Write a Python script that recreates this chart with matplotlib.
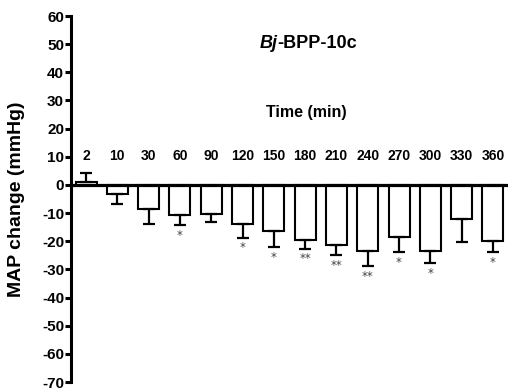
import matplotlib
matplotlib.use('Agg')
import matplotlib.pyplot as plt
import numpy as np

plt.rcParams['font.family'] = ['Liberation Sans', 'DejaVu Sans']

# time points (min) and MAP change (mmHg), mean and SEM
times = [2, 10, 30, 60, 90, 120, 150, 180, 210, 240, 270, 300, 330, 360]
means = [1.0, -3.4, -8.4, -10.6, -10.4, -13.8, -16.5, -19.4, -21.3, -23.5, -18.5, -23.5, -12.1, -19.8]
sems = [3.4, 3.5, 5.5, 3.6, 2.6, 4.9, 5.6, 3.2, 3.7, 5.3, 5.3, 4.3, 8.1, 4.0]
stars = ['', '', '', '*', '', '*', '*', '**', '**', '**', '*', '*', '', '*']
yticks = list(range(-70, 61, 10))

means = np.array(means)
sems = np.array(sems)
x = np.arange(len(times))

fig = plt.figure(figsize=(5.08, 3.9), dpi=100)
ax = fig.add_axes([71 / 508, 8 / 390, 437 / 508, 366 / 390])

# one-sided error bars, away from zero
lower = np.where(means < 0, sems, 0)
upper = np.where(means >= 0, sems, 0)

ax.bar(x, means, width=0.67, color='white', edgecolor='black', linewidth=1.5, zorder=2)
ax.errorbar(x, means, yerr=[lower, upper], fmt='none', ecolor='black',
            elinewidth=1.6, capsize=4.2, capthick=1.6, zorder=3)
ax.axhline(0, color='black', linewidth=2.3, zorder=4)

# time labels above the bars
for xi, t in zip(x, times):
    ax.text(xi, 10.3, str(t), ha='center', va='center', fontsize=10, fontweight='bold')

# significance marks
for xi, m, s, st in zip(x, means, sems, stars):
    if st:
        ax.text(xi, m - s - 3.6, st, ha='center', va='center', fontsize=8.5,
                family='DejaVu Sans', color='#444444')

ax.text(7.03, 25.9, 'Time (min)', ha='center', va='center', fontsize=11.5, fontweight='bold')

t1 = ax.text(5.54, 50.1, 'Bj', ha='left', va='center', fontsize=13,
             fontweight='bold', style='italic')
ax.annotate('-BPP-10c', xy=(1, 0), xycoords=t1, ha='left', va='bottom',
            fontsize=13, fontweight='bold')

ax.set_xlim(-0.48, 13.48)
ax.set_ylim(-70, 60)
ax.set_yticks(yticks)
ax.set_yticklabels([str(v) for v in yticks], fontsize=11, fontweight='bold')
ax.set_xticks([])
ax.set_ylabel('MAP change (mmHg)', fontsize=14, fontweight='bold', labelpad=12)

for side in ['top', 'right', 'bottom']:
    ax.spines[side].set_visible(False)
ax.spines['left'].set_linewidth(2.2)
ax.tick_params(axis='y', direction='out', length=4, width=2.2, pad=1)

fig.savefig('out.png', dpi=100)
